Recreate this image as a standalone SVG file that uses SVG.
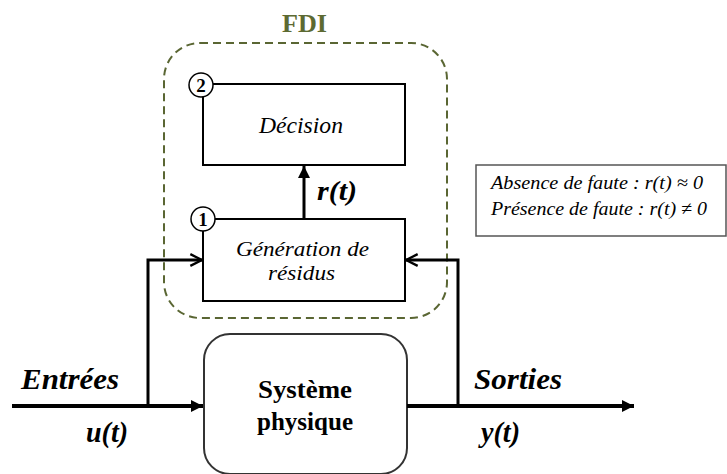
<svg xmlns="http://www.w3.org/2000/svg" width="727" height="474" viewBox="0 0 727 474">
<style>
text{font-family:'Liberation Serif','Times New Roman',serif;fill:#000}
.it{font-style:italic}
.bi{font-style:italic;font-weight:bold}
.b{font-weight:bold}
.box{fill:#fff;stroke:#000;stroke-width:2}
.ln{fill:none;stroke:#000}
</style>
<defs>
<marker id="fillbig" viewBox="0 0 10 10" refX="10" refY="5" markerWidth="13" markerHeight="12" markerUnits="userSpaceOnUse" orient="auto"><path d="M0,0 L10,5 L0,10 z" fill="#000"/></marker>
<marker id="open" viewBox="0 0 12 12" refX="11" refY="6" markerWidth="14" markerHeight="14" markerUnits="userSpaceOnUse" orient="auto"><path d="M1,1 L11,6 L1,11" fill="none" stroke="#000" stroke-width="2"/></marker>
</defs>
<g id="fdi">
<rect x="164" y="43" width="283" height="275" rx="36" fill="none" stroke="#5a6633" stroke-width="2" stroke-dasharray="8,5"/>
<text class="b" x="282" y="32" font-size="26" textLength="45" lengthAdjust="spacingAndGlyphs" style="fill:#5d6a32">FDI</text>
</g>
<g id="decision">
<rect class="box" x="203" y="84" width="202" height="81"/>
<text class="it" x="259" y="133" font-size="23" textLength="84" lengthAdjust="spacingAndGlyphs">Décision</text>
<circle cx="201" cy="85" r="12" fill="#fff" stroke="#000" stroke-width="1.5"/>
<text class="b" x="201" y="91.5" text-anchor="middle" font-size="19">2</text>
</g>
<g id="generation">
<rect class="box" x="203" y="219" width="202" height="82"/>
<text class="it" x="236" y="256" font-size="22" textLength="133" lengthAdjust="spacingAndGlyphs">Génération de</text>
<text class="it" x="268" y="280" font-size="22" textLength="67" lengthAdjust="spacingAndGlyphs">résidus</text>
<circle cx="203" cy="219" r="12" fill="#fff" stroke="#000" stroke-width="1.5"/>
<text class="b" x="203" y="225.5" text-anchor="middle" font-size="19">1</text>
</g>
<g id="systeme">
<rect x="204" y="334" width="203" height="140" rx="26" fill="#fff" stroke="#333" stroke-width="2"/>
<text class="b" x="258" y="398" font-size="26" textLength="94" lengthAdjust="spacingAndGlyphs">Système</text>
<text class="b" x="257" y="430" font-size="26" textLength="96" lengthAdjust="spacingAndGlyphs">physique</text>
</g>
<g id="legend">
<rect x="476" y="165" width="250" height="71" fill="#fff" stroke="#555" stroke-width="1.5"/>
<text class="it" x="491" y="189" font-size="19" textLength="212" lengthAdjust="spacingAndGlyphs">Absence de faute : r(t) ≈ 0</text>
<text class="it" x="491" y="215" font-size="19" textLength="216" lengthAdjust="spacingAndGlyphs">Présence de faute : r(t) ≠ 0</text>
</g>
<g id="connectors">
<line class="ln" x1="304" y1="218" x2="304" y2="166" stroke-width="3" marker-end="url(#fillbig)"/>
<line class="ln" x1="12" y1="406" x2="203" y2="406" stroke-width="4" marker-end="url(#fillbig)"/>
<line class="ln" x1="407" y1="406" x2="634" y2="406" stroke-width="4" marker-end="url(#fillbig)"/>
<polyline class="ln" points="148,406 148,260 202,260" stroke-width="3" marker-end="url(#open)"/>
<polyline class="ln" points="458,406 458,260 406,260" stroke-width="3" marker-end="url(#open)"/>
</g>
<g id="labels">
<text class="bi" x="317" y="200" font-size="28" textLength="40" lengthAdjust="spacingAndGlyphs">r(t)</text>
<text class="bi" x="21" y="389" font-size="29" textLength="98" lengthAdjust="spacingAndGlyphs">Entrées</text>
<text class="bi" x="86" y="442" font-size="29" textLength="42" lengthAdjust="spacingAndGlyphs">u(t)</text>
<text class="bi" x="474" y="389" font-size="29" textLength="88" lengthAdjust="spacingAndGlyphs">Sorties</text>
<text class="bi" x="481" y="442" font-size="29" textLength="39" lengthAdjust="spacingAndGlyphs">y(t)</text>
</g>
</svg>
